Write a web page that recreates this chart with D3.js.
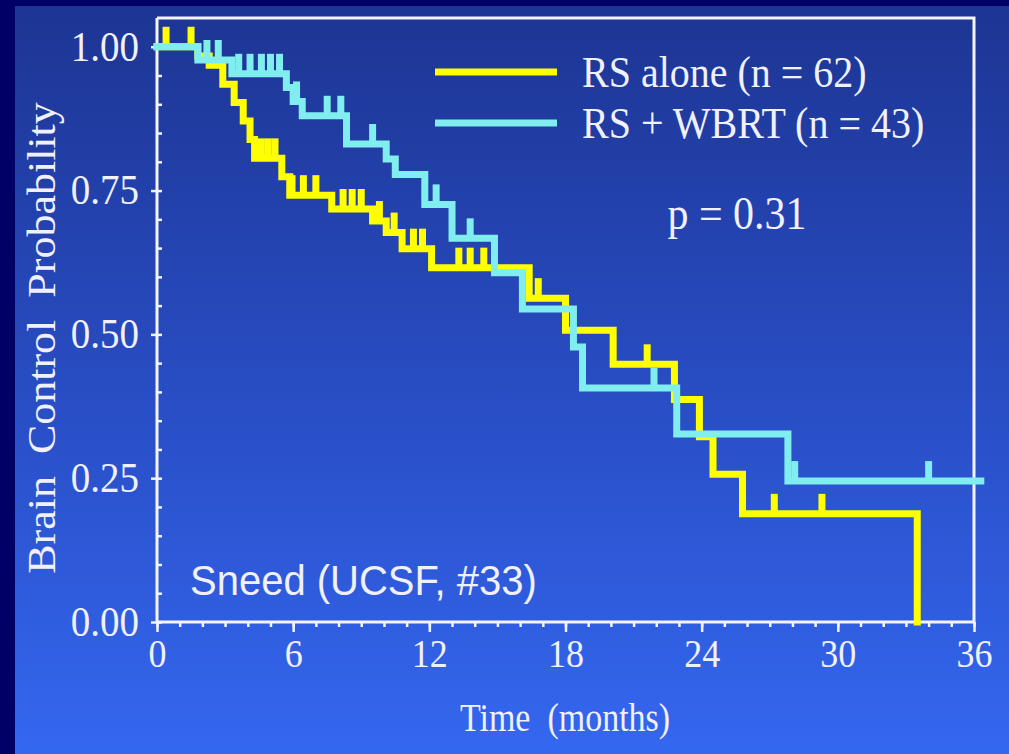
<!DOCTYPE html>
<html>
<head>
<meta charset="utf-8">
<script src="https://cdn.jsdelivr.net/npm/d3@7"></script>
<style>
  html, body { margin: 0; padding: 0; background: #000066; }
  svg { display: block; }
  text { fill: #f0f0ff; }
</style>
</head>
<body>
<svg id="chart" width="1009" height="754"></svg>
<script>
// Kaplan-Meier step data: time (months) of each drop and survival after it
const rsAloneTimes  = [0, 1.8, 2.3, 2.9, 3.4, 3.8, 4.1, 4.3, 5.5, 5.85, 7.7, 9.5, 10.1, 10.8, 12.1, 16.4, 18.0, 20.1, 22.8, 23.9, 24.5, 25.8, 33.5];
const rsAloneSurv   = [1.0, 0.984, 0.968, 0.935, 0.903, 0.871, 0.839, 0.806, 0.774, 0.742, 0.718, 0.697, 0.677, 0.649, 0.616, 0.563, 0.507, 0.448, 0.387, 0.322, 0.257, 0.188, 0.0];
const rsAloneCensor = [0.4, 1.5, 4.6, 4.9, 5.2, 5.95, 6.45, 7.0, 8.2, 8.6, 9.0, 9.8, 10.45, 11.3, 11.7, 13.3, 13.8, 14.4, 16.8, 21.6, 27.2, 29.3];

const wbrtTimes  = [0, 1.8, 3.3, 5.7, 6.0, 6.4, 8.35, 10.1, 10.5, 11.8, 13.0, 14.87, 16.1, 18.35, 18.75, 22.9, 27.8];
const wbrtSurv   = [1.0, 0.977, 0.953, 0.929, 0.905, 0.880, 0.831, 0.805, 0.778, 0.726, 0.667, 0.607, 0.544, 0.478, 0.407, 0.327, 0.245];
const wbrtCensor = [2.2, 2.7, 3.6, 4.1, 4.6, 5.0, 5.4, 6.15, 7.5, 8.1, 9.5, 12.3, 13.8, 21.9, 28.1, 34.0];
const wbrtEnd = 36.3;

const xTicks = [0, 6, 12, 18, 24, 30, 36];
const yTicks = [0, 0.25, 0.5, 0.75, 1.0];

const svg = d3.select("#chart");
const W = 1009, H = 754;
const serif = "'Liberation Serif', 'Times New Roman', serif";

// backdrop: dark border with a vertical blue gradient panel
const defs = svg.append("defs");
const grad = defs.append("linearGradient").attr("id", "bg").attr("x1", 0).attr("y1", 0).attr("x2", 0).attr("y2", 1);
grad.append("stop").attr("offset", "0%").attr("stop-color", "#1d3593");
grad.append("stop").attr("offset", "50%").attr("stop-color", "#284cc2");
grad.append("stop").attr("offset", "100%").attr("stop-color", "#3467f0");
svg.append("rect").attr("width", W).attr("height", H).attr("fill", "#000066");
svg.append("rect").attr("x", 15).attr("y", 6).attr("width", W - 15).attr("height", H - 6).attr("fill", "url(#bg)");

const x = d3.scaleLinear().domain([0, 36]).range([157, 974]);
const y = d3.scaleLinear().domain([0, 1.05]).range([622, 18]);

const white = "#f4f4ff";

// frame: top and right edges
svg.append("path")
  .attr("d", `M${x(0)},${y(1.05)}H${x(36)}V${y(0)}`)
  .attr("fill", "none").attr("stroke", white).attr("stroke-width", 3);

// x axis: monthly minor ticks, 6-month majors with labels
const gx = svg.append("g").attr("transform", `translate(0,${y(0)})`);
gx.call(d3.axisBottom(x).tickValues(d3.range(0, 37, 1)).tickSize(5).tickFormat(""));
gx.call(g => g.select(".domain").remove());
const gxMaj = svg.append("g").attr("transform", `translate(0,${y(0)})`)
  .call(d3.axisBottom(x).tickValues(xTicks).tickSize(10).tickPadding(5).tickFormat(d3.format("d")));
[gx, gxMaj].forEach(g => {
  g.selectAll("line").attr("stroke", white).attr("stroke-width", 2.5);
  g.selectAll(".domain").attr("stroke", white).attr("stroke-width", 3);
});
gxMaj.select(".domain").attr("d", `M${x(0)},0H${x(36)}`);
gxMaj.selectAll("text")
  .attr("font-family", serif)
  .attr("font-size", 36).attr("fill", white)
  .attr("transform", "scale(1,1.12)");

// y axis: 0.05 minor ticks inside, 0.25 majors outside
const gyMin = svg.append("g").attr("transform", `translate(${x(0)},0)`)
  .call(d3.axisRight(y).tickValues(d3.range(0, 21).map(i => i * 0.05)).tickSize(5).tickFormat(""));
gyMin.select(".domain").remove();
const gy = svg.append("g").attr("transform", `translate(${x(0)},0)`)
  .call(d3.axisLeft(y).tickValues(yTicks).tickSize(6).tickPadding(12).tickFormat(d3.format(".2f")));
gy.select(".domain").attr("d", `M0,${y(0)}V${y(1.05)}`);
[gy, gyMin].forEach(g => {
  g.selectAll("line").attr("stroke", white).attr("stroke-width", 2.5);
  g.selectAll(".domain").attr("stroke", white).attr("stroke-width", 3);
});
gy.selectAll("text")
  .attr("font-family", serif)
  .attr("font-size", 39).attr("fill", white)
  .attr("transform", "scale(1,1.06)");

// horizontal text with a slight vertical stretch
function label(tx, ty, str, opts) {
  const o = Object.assign({ size: 38, sy: 1.12, anchor: "start", family: serif }, opts || {});
  return svg.append("text")
    .attr("transform", `translate(${tx},${ty}) scale(1,${o.sy})`)
    .attr("text-anchor", o.anchor)
    .attr("font-family", o.family)
    .attr("font-size", o.size)
    .style("white-space", "pre")
    .text(str);
}

// axis titles
label(565, 731, "Time  (months)", { size: 34, sy: 1.15, anchor: "middle" });

svg.append("text")
  .attr("transform", "translate(55,338) rotate(-90) scale(1.1,1)")
  .attr("text-anchor", "middle")
  .attr("font-family", serif)
  .attr("font-size", 40)
  .style("white-space", "pre")
  .text("Brain  Control  Probability");

// survival curves
const stepLine = d3.line().x(d => x(d[0])).y(d => y(d[1])).curve(d3.curveStepAfter);

function survivalAt(times, surv, t) {
  const i = d3.bisectRight(times, t) - 1;
  return surv[Math.max(0, i)];
}

function drawCurve(times, surv, censor, color, endT) {
  const pts = times.map((t, i) => [t, surv[i]]);
  if (endT !== undefined) pts.push([endT, surv[surv.length - 1]]);
  svg.append("path")
    .datum(pts)
    .attr("d", stepLine)
    .attr("fill", "none")
    .attr("stroke", color)
    .attr("stroke-width", 7)
    .attr("stroke-linecap", "square");
  svg.append("g").selectAll("line")
    .data(censor)
    .join("line")
    .attr("x1", d => x(d)).attr("x2", d => x(d))
    .attr("y1", d => y(survivalAt(times, surv, d)))
    .attr("y2", d => y(survivalAt(times, surv, d)) - 20)
    .attr("stroke", color)
    .attr("stroke-width", 7);
}

const yellow = "#ffff00";
const cyan = "#80eeee";
drawCurve(rsAloneTimes, rsAloneSurv, rsAloneCensor, yellow);
drawCurve(wbrtTimes, wbrtSurv, wbrtCensor, cyan, wbrtEnd);

// legend
const legend = [
  { label: "RS alone (n = 62)", color: yellow, y: 72 },
  { label: "RS + WBRT (n = 43)", color: cyan, y: 123 }
];
legend.forEach(d => {
  svg.append("line")
    .attr("x1", 435).attr("x2", 557).attr("y1", d.y).attr("y2", d.y)
    .attr("stroke", d.color).attr("stroke-width", 7);
  label(582, d.y + 15, d.label, { size: 40, sy: 1.12 });
});

label(737, 229, "p = 0.31", { size: 42, sy: 1.1, anchor: "middle" });

label(190, 595, "Sneed (UCSF, #33)", { size: 40, sy: 1.08, family: "'Liberation Sans', Arial, sans-serif" });
</script>
</body>
</html>
